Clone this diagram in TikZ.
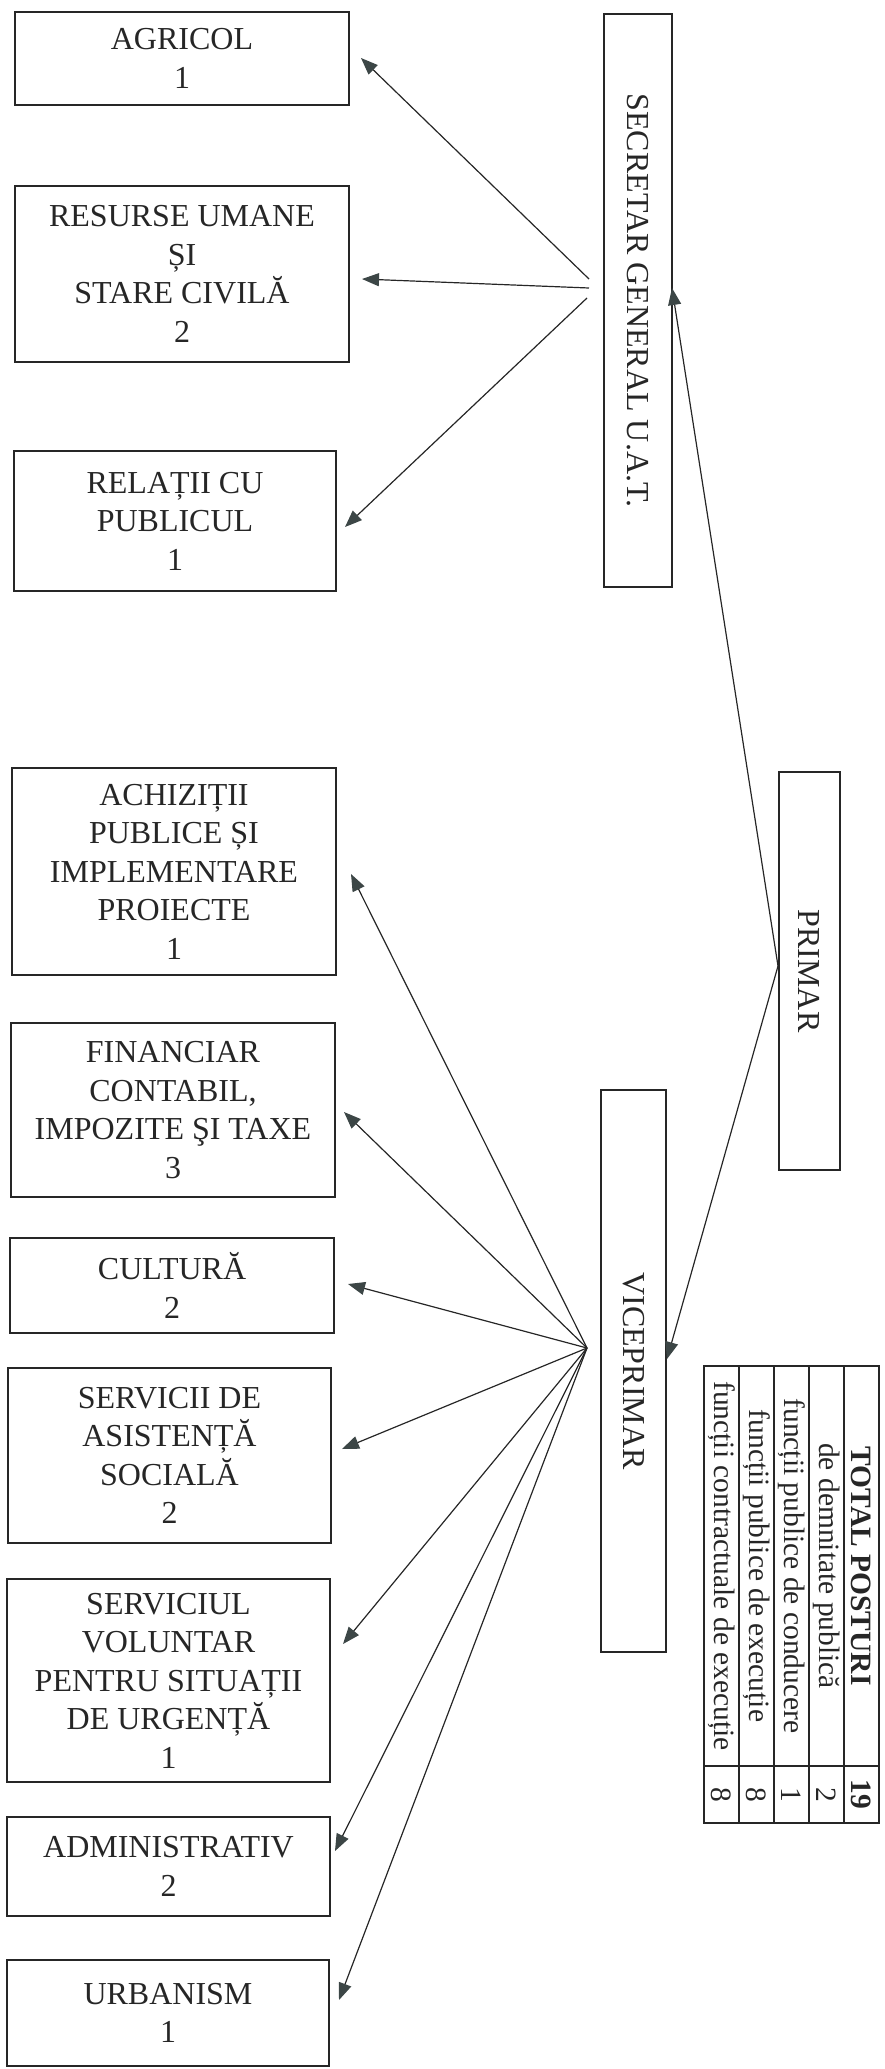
\documentclass[tikz,border=0pt]{standalone}
\usepackage{fontspec}
\setmainfont{Liberation Serif}
\usetikzlibrary{arrows.meta}
\definecolor{ink}{HTML}{262626}
\definecolor{tipc}{HTML}{3C4646}
\begin{document}
\begin{tikzpicture}[x=1pt,y=-1pt,
  box/.style={draw=ink, line width=1.8pt, text=ink, align=center, inner sep=0pt,
    font=\fontsize{32}{38.5}\selectfont},
  vbox/.style={box, rotate=-90},
  cell/.style={draw=ink, line width=1.3pt, text=ink, inner sep=0pt, rotate=-90,
    minimum height=35pt, font=\fontsize{29.5}{30}\selectfont},
  conn/.style={draw=ink, line width=1.2pt, -{Triangle[length=17pt,width=13pt,color=tipc]}}
]
\useasboundingbox (0,0) rectangle (885,2069);

% left boxes
\node[box, minimum width=334pt, minimum height=93pt]  (agri) at (182,58.5) {AGRICOL\\1};
\node[box, minimum width=334pt, minimum height=176pt] (resu) at (182,274) {RESURSE UMANE\\ȘI\\STARE CIVILĂ\\2};
\node[box, minimum width=322pt, minimum height=140pt] (rela) at (175,521) {RELAȚII CU\\PUBLICUL\\1};
\node[box, minimum width=324pt, minimum height=207pt] (achi) at (174,871.5) {ACHIZIȚII\\PUBLICE ȘI\\IMPLEMENTARE\\PROIECTE\\1};
\node[box, minimum width=324pt, minimum height=174pt] (fina) at (173,1110) {FINANCIAR\\CONTABIL,\\IMPOZITE ŞI TAXE\\3};
\node[box, minimum width=324pt, minimum height=95pt]  (cult) at (172,1285.5) {CULTURĂ\\2};
\node[box, minimum width=323pt, minimum height=175pt] (asis) at (169.5,1455.5) {SERVICII DE\\ASISTENȚĂ\\SOCIALĂ\\2};
\node[box, minimum width=323pt, minimum height=203pt] (volu) at (168.5,1680.5) {SERVICIUL\\VOLUNTAR\\PENTRU SITUAȚII\\DE URGENȚĂ\\1};
\node[box, minimum width=323pt, minimum height=99pt]  (admi) at (168.5,1866.5) {ADMINISTRATIV\\2};
\node[box, minimum width=322pt, minimum height=106pt] (urba) at (168,2013) {URBANISM\\1};

% vertical boxes
\node[vbox, minimum width=573pt, minimum height=68pt] (secr) at (638,300.5) {SECRETAR GENERAL U.A.T.};
\node[vbox, minimum width=398pt, minimum height=61pt] (prim) at (809.5,971) {PRIMAR};
\node[vbox, minimum width=562pt, minimum height=65pt] (vice) at (633.5,1371) {VICEPRIMAR};

% table
\node[cell, minimum width=400pt, font=\fontsize{29.5}{30}\selectfont\bfseries] (c1) at (861.5,1566) {TOTAL POSTURI};
\node[cell, minimum width=57pt, font=\fontsize{29.5}{30}\selectfont\bfseries]  (n1) at (861.5,1794.5) {19};
\node[cell, minimum width=400pt] (c2) at (826.5,1566) {de demnitate publică};
\node[cell, minimum width=57pt]  (n2) at (826.5,1794.5) {2};
\node[cell, minimum width=400pt] (c3) at (791.5,1566) {funcții publice de conducere};
\node[cell, minimum width=57pt]  (n3) at (791.5,1794.5) {1};
\node[cell, minimum width=400pt] (c4) at (756.5,1566) {funcții publice de execuție};
\node[cell, minimum width=57pt]  (n4) at (756.5,1794.5) {8};
\node[cell, minimum width=400pt] (c5) at (721.5,1566) {funcții contractuale de execuție};
\node[cell, minimum width=57pt]  (n5) at (721.5,1794.5) {8};

% connector points
\coordinate (sf1) at (589,279);
\coordinate (sf2) at (589,288);
\coordinate (sf3) at (587,298);
\coordinate (pf) at (778,966);
\coordinate (vf) at (587,1348);
\coordinate (tAgri) at (361,58);
\coordinate (tResu) at (362,279);
\coordinate (tRela) at (345,527);
\coordinate (tSecr) at (672,288);
\coordinate (tVice) at (667,1359);
\coordinate (tAchi) at (351,874);
\coordinate (tFina) at (344,1112);
\coordinate (tCult) at (348,1284);
\coordinate (tAsis) at (342,1449);
\coordinate (tVolu) at (343,1644);
\coordinate (tAdmi) at (335,1851);
\coordinate (tUrba) at (339,2000);

% connectors
\draw[conn] (sf1) -- (tAgri);
\draw[conn] (sf2) -- (tResu);
\draw[conn] (sf3) -- (tRela);
\draw[conn] (pf) -- (tSecr);
\draw[conn] (pf) -- (tVice);
\draw[conn] (vf) -- (tAchi);
\draw[conn] (vf) -- (tFina);
\draw[conn] (vf) -- (tCult);
\draw[conn] (vf) -- (tAsis);
\draw[conn] (vf) -- (tVolu);
\draw[conn] (vf) -- (tAdmi);
\draw[conn] (vf) -- (tUrba);
\end{tikzpicture}
\end{document}
